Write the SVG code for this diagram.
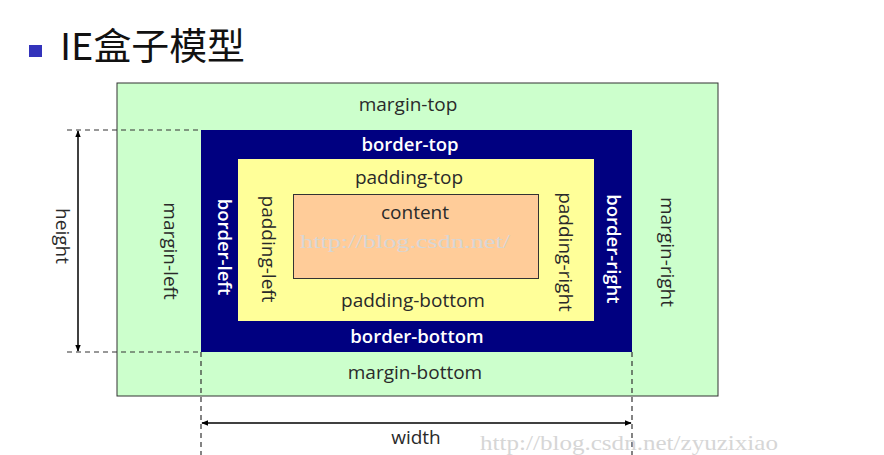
<svg xmlns="http://www.w3.org/2000/svg" width="884" height="455" viewBox="0 0 884 455">
<defs>
<style>
.lbl{font-family:"Open Sans","Liberation Sans",sans-serif;font-size:19px;fill:#2a2a2a;text-anchor:middle;dominant-baseline:central}
.wlbl{font-family:"Open Sans","Liberation Sans",sans-serif;font-size:18.5px;fill:#ffffff;text-anchor:middle;dominant-baseline:central;font-weight:600}
.dash{stroke:#333;stroke-width:1.2;stroke-dasharray:5,4;fill:none}
.arr{stroke:#000;stroke-width:1.5;fill:none;marker-start:url(#ah);marker-end:url(#ah)}
.wm{font-family:"Liberation Serif",serif;fill:#d6d6d6}
</style>
<marker id="ah" viewBox="0 0 10 10" refX="9" refY="5" markerWidth="7" markerHeight="7" orient="auto-start-reverse" markerUnits="userSpaceOnUse">
<path d="M0,1 L10,5 L0,9 Z" fill="#000"/>
</marker>
</defs>
<rect width="884" height="455" fill="#ffffff"/>
<g id="title">
<rect x="29" y="45" width="13" height="12" fill="#3333bb"/>
<text x="60" y="60" font-family="'Noto Sans CJK SC',sans-serif" font-size="37" fill="#111" textLength="185" lengthAdjust="spacingAndGlyphs">IE盒子模型</text>
</g>
<g id="margin">
<rect x="117" y="83" width="601" height="313" fill="#ccffcc" stroke="#333" stroke-width="1"/>
<text class="lbl" x="408" y="104">margin-top</text>
<text class="lbl" x="415" y="372">margin-bottom</text>
<text class="lbl" transform="translate(171,251) rotate(90)">margin-left</text>
<text class="lbl" transform="translate(668,252) rotate(90)">margin-right</text>
</g>
<g id="border">
<rect x="201" y="130" width="431" height="222" fill="#000080"/>
<text class="wlbl" x="410" y="143">border-top</text>
<text class="wlbl" x="417" y="335">border-bottom</text>
<text class="wlbl" transform="translate(225,247) rotate(90)">border-left</text>
<text class="wlbl" transform="translate(614,249) rotate(90)">border-right</text>
</g>
<g id="padding">
<rect x="238" y="159" width="356" height="162" fill="#ffff99"/>
<text class="lbl" x="409" y="177">padding-top</text>
<text class="lbl" x="413" y="300">padding-bottom</text>
<text class="lbl" transform="translate(269,249) rotate(90)">padding-left</text>
<text class="lbl" transform="translate(566,252) rotate(90)">padding-right</text>
</g>
<g id="content">
<rect x="293.5" y="194.5" width="245" height="84" fill="#ffcc99" stroke="#333" stroke-width="1"/>
<text class="lbl" x="415" y="212">content</text>
<text class="wm" x="300" y="248" font-size="19" textLength="210" lengthAdjust="spacingAndGlyphs">http://blog.csdn.net/</text>
</g>
<g id="connectors">
<line class="dash" x1="67" y1="130" x2="201" y2="130"/>
<line class="dash" x1="67" y1="352" x2="201" y2="352"/>
<line class="dash" x1="201" y1="352" x2="201" y2="455"/>
<line class="dash" x1="632" y1="352" x2="632" y2="455"/>
<line class="arr" x1="78" y1="131" x2="78" y2="351"/>
<line class="arr" x1="202" y1="423" x2="631" y2="423"/>
</g>
<g id="dims">
<text class="lbl" transform="translate(63,236) rotate(90)">height</text>
<text class="lbl" x="416" y="437">width</text>
</g>
<text class="wm" x="480" y="450" font-size="21" fill="#bbbbbb" textLength="298" lengthAdjust="spacingAndGlyphs">http://blog.csdn.net/zyuzixiao</text>
</svg>
